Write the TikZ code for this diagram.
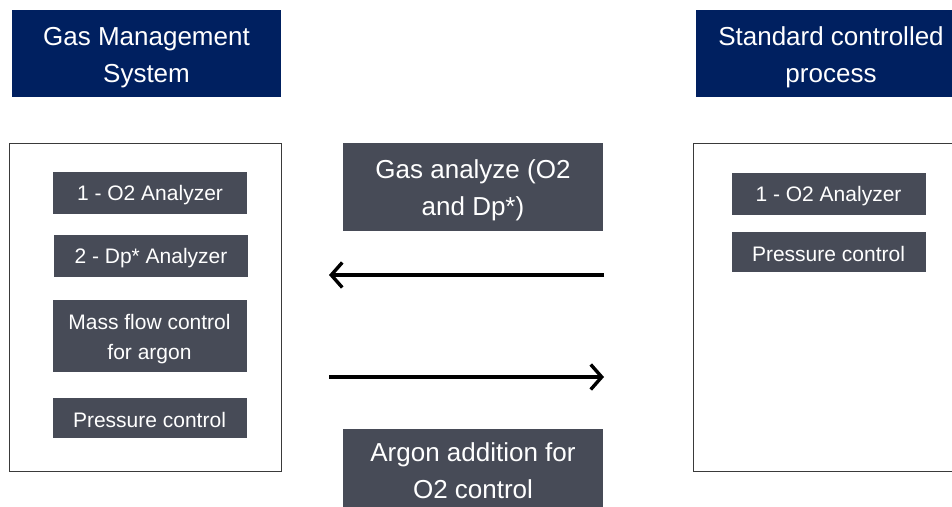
\documentclass[tikz,border=0pt]{standalone}
\usepackage{fontspec}
\setmainfont{Liberation Sans}
\usetikzlibrary{arrows.meta,positioning}
\definecolor{navy}{HTML}{002060}
\definecolor{slate}{HTML}{474B57}
\definecolor{frame}{HTML}{3A3A3A}
% taller first line pushes the text block down a little
\newcommand{\padtop}[1]{\rule{0pt}{#1}}

\begin{document}
\begin{tikzpicture}[x=1pt, y=-1pt, >={Straight Barb[length=11pt, width=25pt, line width=3.4pt]},
    hdr/.style={fill=navy, text=white, inner sep=0pt, align=center,
      font=\fontsize{26}{37}\selectfont},
    panel/.style={draw=frame, line width=1pt, fill=white},
    item/.style={fill=slate, text=white, inner sep=0pt, align=center,
      minimum width=194pt, font=\fontsize{21}{30}\selectfont},
    flow/.style={fill=slate, text=white, inner sep=0pt, align=center,
      minimum width=260pt, font=\fontsize{26}{37}\selectfont}]
  \clip (0,0) rectangle (952,506);
  \fill[white] (0,0) rectangle (952,506);

  % headers
  \node[hdr, minimum width=269pt, minimum height=87pt] (gms) at (146.5,53.5) {\padtop{27pt}Gas Management\\System};
  \node[hdr, minimum width=270pt, minimum height=87pt] (scp) at (831,53.5) {\padtop{27pt}Standard controlled\\process};

  % panels
  \node[panel, minimum width=272pt, minimum height=328pt] (gmsbox) at (145,307) {};
  \node[panel, minimum width=280pt, minimum height=328pt] (scpbox) at (833,307) {};

  % gas management items
  \node[item, minimum height=42pt] (o2l) at (150,193) {\padtop{20pt}1 - O2 Analyzer};
  \node[item, minimum height=42pt] (dpl) at (151,256) {\padtop{20pt}2 - Dp* Analyzer};
  \node[item, minimum height=72pt] (mfc) at (149.5,336) {\padtop{21pt}Mass flow control\\for argon};
  \node[item, minimum height=40pt] (prl) at (149.5,418) {\padtop{20pt}Pressure control};

  % standard process items
  \node[item, minimum height=42pt] (o2r) at (828.5,194) {\padtop{20pt}1 - O2 Analyzer};
  \node[item, minimum height=40pt] (prr) at (828.5,252) {\padtop{20pt}Pressure control};

  % exchanged signals
  \node[flow, minimum height=88pt] (gas) at (473,187) {\padtop{25pt}Gas analyze (O2\\and Dp*)};
  \node[flow, minimum height=78pt] (arg) at (473,468) {\padtop{25pt}Argon addition for\\O2 control};

  \coordinate (inR) at (604,275);
  \coordinate (inL) at (329,275);
  \coordinate (outL) at (329,377);
  \coordinate (outR) at (604,377);
  \draw[->, line width=3.2pt] (inR) -- (inL);
  \draw[->, line width=3.2pt] (outL) -- (outR);
\end{tikzpicture}
\end{document}
